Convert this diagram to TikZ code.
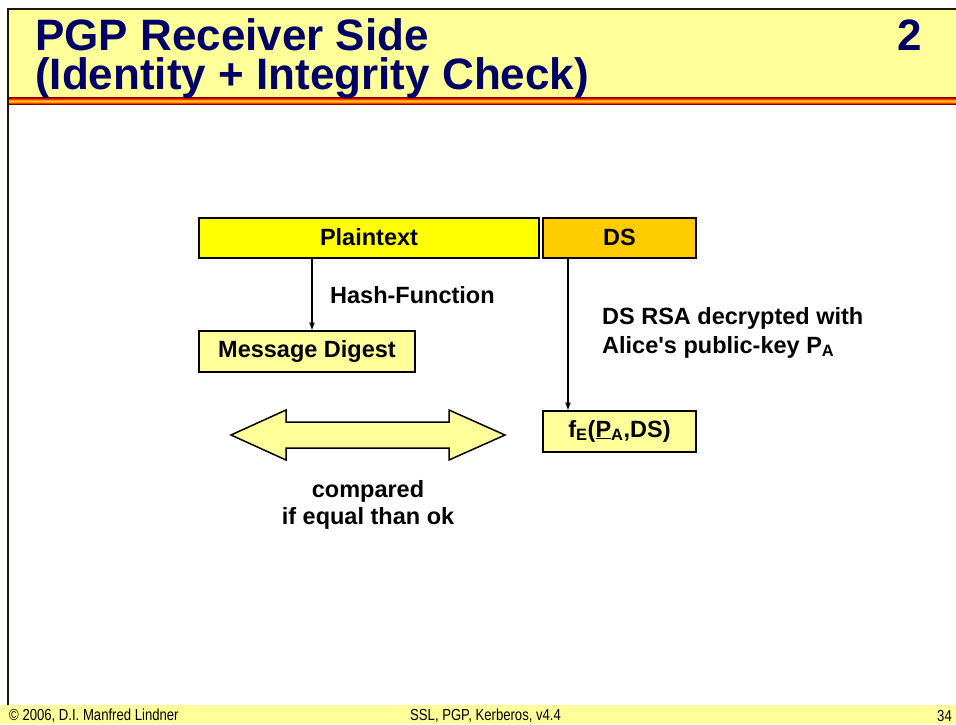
\documentclass[tikz,border=0pt]{standalone}
\usepackage{fontspec}
\setmainfont{Liberation Sans}
\newfontfamily\bodyfont[Ligatures=TeXOff]{Liberation Sans}
\newfontfamily\narrowfont[FakeStretch=0.82]{Liberation Sans}
\usetikzlibrary{arrows.meta}
\definecolor{hdrfill}{HTML}{FFFF99}
\definecolor{navy}{HTML}{000066}
\definecolor{ptyellow}{HTML}{FFFF00}
\definecolor{dsorange}{HTML}{FFCC00}
\definecolor{lightbox}{HTML}{FFFF99}
\definecolor{frameline}{HTML}{1A1A00}
\begin{document}
\begin{tikzpicture}[x=1pt,y=-1pt,
  title/.style={anchor=base west,inner sep=0pt,text=navy,font=\fontsize{44}{39}\selectfont\bfseries},
  body/.style={inner sep=0pt,font=\bodyfont\fontsize{23.5}{28}\selectfont\bfseries},
  foot/.style={anchor=base west,inner sep=0pt,font=\narrowfont\fontsize{16}{18}\selectfont},
  boxline/.style={draw=black,line width=2pt},
  conn/.style={draw=black,line width=1.2pt,-{Latex[length=8pt,width=6pt]}}]
\useasboundingbox (0,0) rectangle (956,724);
% header
\fill[hdrfill] (9,10) rectangle (956,97);
\fill[hdrfill] (0,705) rectangle (956,724);
\foreach \c/\y in {800000/97,CC0000/98,FF3300/99,FF9900/100,FFCC00/101,FF9900/102,FF3300/103,800000/104}{
  \definecolor{stripe}{HTML}{\c}
  \fill[stripe] (9,\y) rectangle (956,\y+1.05);
}
\draw[frameline,line width=2pt] (8,705) -- (8,9) -- (956,9);
\node[title,align=left] (t1) at (35,89) {PGP Receiver Side\\(Identity + Integrity Check)};
\node[title] (tn) at (897,50) {2};
% footer
\node[foot] (f1) at (9,720) {\textcopyright{} 2006, D.I. Manfred Lindner};
\node[foot] (f2) at (410,720) {SSL, PGP, Kerberos, v4.4};
\node[foot] (f3) at (937,721) {34};
% boxes
\node[body,boxline,fill=ptyellow,minimum width=340pt,minimum height=40pt] (pt) at (369,237.5) {Plaintext};
\node[body,boxline,fill=dsorange,minimum width=153pt,minimum height=40pt] (ds) at (619.5,237.5) {DS};
\node[body,boxline,fill=lightbox,minimum width=216pt,minimum height=41pt] (md) at (307,351) {Message Digest};
\node[body,boxline,fill=lightbox,minimum width=153pt,minimum height=41pt] (fe) at (619.5,431) {f\textsubscript{E}(\underline{P}\textsubscript{A},DS)};
\coordinate (hs) at (312,257.5);
\coordinate (he) at (312,330.5);
\draw[conn] (hs) -- (he);
\coordinate (ds1) at (568,257.5);
\coordinate (ds2) at (568,410.5);
\draw[conn] (ds1) -- (ds2);
\node[body,anchor=west] (hf) at (330,295) {Hash-Function};
\node[body,anchor=base west] (r1) at (602,324) {DS RSA decrypted with};
\node[body,anchor=base west] (r2) at (602,353) {Alice's public-key P\textsubscript{A}};
% compare arrow
\draw[fill=lightbox,draw=black,line width=1.5pt]
  (231,435) -- (286,410) -- (286,422) -- (449,422) -- (449,410) -- (505,435)
  -- (449,460) -- (449,448) -- (286,448) -- (286,460) -- cycle;
\node[body,anchor=base] (c1) at (368,497) {compared};
\node[body,anchor=base] (c2) at (368,524) {if equal than ok};
\end{tikzpicture}
\end{document}
